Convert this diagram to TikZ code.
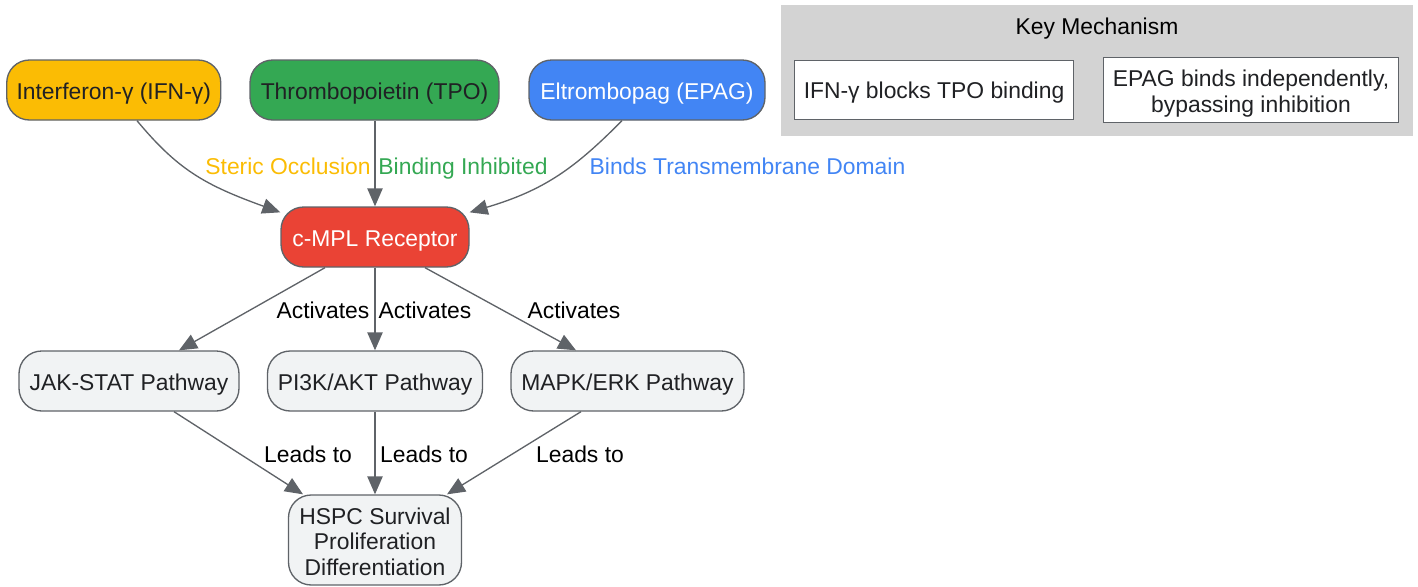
\documentclass[tikz,border=0pt]{standalone}
\usepackage{fontspec}
\setmainfont{Liberation Sans}
\usetikzlibrary{arrows.meta,calc}
\definecolor{edgegrey}{HTML}{5F6368}
\definecolor{inkdark}{HTML}{202124}
\definecolor{cyellow}{HTML}{FBBC04}
\definecolor{cgreen}{HTML}{34A853}
\definecolor{cblue}{HTML}{4285F4}
\definecolor{cred}{HTML}{EA4335}
\definecolor{cpale}{HTML}{F1F3F4}
\definecolor{ckey}{HTML}{D3D3D3}
\tikzset{
  x=0.75pt,y=-0.75pt,
  txt/.style={font=\fontsize{17.15pt}{19.1pt}\selectfont,align=center,inner sep=0pt,text height=15pt,text depth=1pt},
  base/.style={txt,draw=edgegrey,line width=1pt,rounded corners=17pt,text=inkdark},
  pale/.style={base,fill=cpale},
  keybox/.style={txt,draw=edgegrey,line width=0.9pt,fill=white,text=inkdark},
  conn/.style={draw=edgegrey,line width=1pt,-{Triangle[length=13.5pt,width=11.5pt]}},
  lab/.style={txt,text=black}
}
\begin{document}
\begin{tikzpicture}
\useasboundingbox (0,0) rectangle (1418,586);
\node[fill=ckey,minimum width=474pt,minimum height=98.25pt,inner sep=0pt] (key) at (1097,70.5) {};
\node[lab] (keyt) at (1097,24.7) {Key Mechanism};
\node[keybox,text height=14pt,text depth=1.5pt,minimum width=209.5pt,minimum height=44.5pt] (k1) at (934,90) {IFN-γ blocks TPO binding};
\node[keybox,text height=34.6pt,text depth=1.4pt,minimum width=221.5pt,minimum height=49pt] (k2) at (1251,90) {EPAG binds independently,\\bypassing inhibition};

\node[base,fill=cyellow,minimum width=160.5pt,minimum height=45pt] (ifn) at (113.75,90) {Interferon-γ (IFN-γ)};
\node[base,fill=cgreen,minimum width=186.75pt,minimum height=45pt] (tpo) at (374.5,90) {Thrombopoietin (TPO)};
\node[base,fill=cblue,text=white,minimum width=177pt,minimum height=45pt] (epag) at (647,90) {Eltrombopag (EPAG)};
\node[base,fill=cred,text=white,minimum width=141pt,minimum height=45pt] (mpl) at (375,237) {c-MPL Receptor};
\node[pale,minimum width=165pt,minimum height=45pt] (jak) at (129,381) {JAK-STAT Pathway};
\node[pale,minimum width=161.25pt,minimum height=45pt] (pi3k) at (375,381) {PI3K/AKT Pathway};
\node[pale,minimum width=174.75pt,minimum height=45pt] (mapk) at (627.5,381) {MAPK/ERK Pathway};
\node[pale,text height=54pt,text depth=1.5pt,minimum width=129.75pt,minimum height=67.5pt] (hspc) at (375,540) {HSPC Survival\\Proliferation\\Differentiation};

\draw[conn] ($(ifn.south)+(23.25,0)$) .. controls (178,170) and (205,185) .. ($(mpl.north west)+(0,6)$);
\draw[conn] ($(tpo.south)+(0.5,0)$) -- (mpl.north);
\draw[conn] ($(epag.south)+(-25,0)$) .. controls (575,168) and (545,190) .. ($(mpl.north east)+(0,6)$);
\draw[conn] ($(mpl.south)+(-50,0)$) -- ($(jak.north)+(50,0)$);
\draw[conn] (mpl.south) -- (pi3k.north);
\draw[conn] ($(mpl.south)+(50,0)$) -- ($(mapk.north)+(-51.5,0)$);
\draw[conn] ($(jak.south)+(45,0)$) -- ($(hspc.north)+(-72,0)$);
\draw[conn] (pi3k.south) -- (hspc.north);
\draw[conn] ($(mapk.south)+(-46.5,0)$) -- ($(hspc.north)+(72,0)$);

\node[lab,text=cyellow] (l1) at (288,164.7) {Steric Occlusion};
\node[lab,text=cgreen] (l2) at (463,164.7) {Binding Inhibited};
\node[lab,text=cblue] (l3) at (747.5,164.7) {Binds Transmembrane Domain};
\node[lab] (l4) at (323,309.2) {Activates};
\node[lab] (l5) at (425,309.2) {Activates};
\node[lab] (l6) at (574,309.2) {Activates};
\node[lab] (l7) at (308,453.2) {Leads to};
\node[lab] (l8) at (424,453.2) {Leads to};
\node[lab] (l9) at (580,453.2) {Leads to};
\end{tikzpicture}
\end{document}
